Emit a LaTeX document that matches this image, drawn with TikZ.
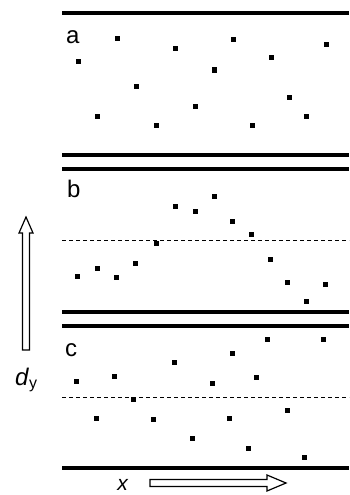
\documentclass[tikz,border=0pt]{standalone}
\usepackage{fontspec}
\setmainfont{Liberation Sans}
\begin{document}
\begin{tikzpicture}[x=1pt, y=-1pt,
        wall/.style={line width=3.3pt},
        centre/.style={line width=1pt, dash pattern=on 4pt off 3pt},
        particle/.style={fill=black, inner sep=0pt, minimum size=5pt},
        panel/.style={anchor=base west, inner sep=0pt, font=\fontsize{24}{28}\selectfont},
        hollow/.style={draw=black, fill=white, line width=1.2pt, line join=miter}]
        \useasboundingbox (0,0) rectangle (349,495);
        % channel walls
        \draw[wall] (62,13) -- (349,13);
        \draw[wall] (62,155) -- (349,155);
        \draw[wall] (62,169) -- (349,169);
        \draw[wall] (62,312) -- (349,312);
        \draw[wall] (62,326) -- (349,326);
        \draw[wall] (62,468) -- (349,468);
        \draw[centre] (62,240) -- (349,240);
        \draw[centre] (62,397) -- (349,397);
        % panel labels
        \node[panel] (la) at (66,44) {a};
        \node[panel] (lb) at (67,197) {b};
        \node[panel] (lc) at (65,356) {c};
        % particles
        \foreach \px/\py [count=\i] in {117/39, 175/49, 233/40, 326/45, 78/62, 271/58, 214/70,
                136/86, 289/97, 195/106, 97/116, 306/116, 156/125, 252/125}
            \node[particle] (a\i) at (\px,\py) {};
        \foreach \px/\py [count=\i] in {175/206, 195/211, 214/196, 232/221, 251/234, 156/243, 77/276,
                97/268, 116/277, 135/263, 270/259, 287/282, 325/284, 306/301}
            \node[particle] (b\i) at (\px,\py) {};
        \foreach \px/\py [count=\i] in {267/339, 323/339, 232/353, 174/362, 76/381, 114/376, 212/383,
                256/377, 133/399, 96/418, 153/419, 229/418, 287/410, 192/438, 248/448, 304/457}
            \node[particle] (c\i) at (\px,\py) {};
        % axes
        \draw[hollow] (22.5,350) -- (22.5,233) -- (19,233) -- (26,217) -- (33,233)
            -- (29.5,233) -- (29.5,350) -- cycle;
        \draw[hollow] (150,479.5) -- (267,479.5) -- (267,475) -- (286,483) -- (267,491)
            -- (267,486.5) -- (150,486.5) -- cycle;
        \node[anchor=base west, inner sep=0pt, font=\fontsize{24}{28}\selectfont] (dy) at (15,385)
            {\textit{d}\raisebox{-0.25ex}{\fontsize{16}{19}\selectfont y}};
        \node[anchor=base, inner sep=0pt, font=\fontsize{21}{25}\selectfont] (xlab) at (123,490) {\textit{x}};
\end{tikzpicture}
\end{document}
